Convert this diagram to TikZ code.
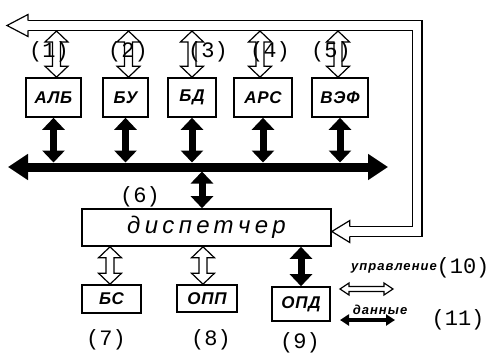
\documentclass[tikz,border=0pt]{standalone}
\usepackage{fontspec}
\setmainfont{Liberation Sans}
\newfontfamily\monof{Liberation Mono}
\newfontfamily\boxf[LetterSpace=4]{Liberation Sans}
\newfontfamily\dispf[LetterSpace=18]{Liberation Sans}
\newfontfamily\legf[LetterSpace=8]{Liberation Sans}
\usetikzlibrary{arrows.meta,calc}

\tikzset{
  blk/.style={draw, line width=1.6pt, inner sep=0pt, font=\boxf\bfseries\itshape\fontsize{17}{17}\selectfont},
  lbl/.style={font=\monof\fontsize{22}{22}\selectfont, inner sep=0pt},
  legtext/.style={font=\legf\bfseries\itshape\fontsize{13}{13}\selectfont, inner sep=0pt},
  hollow/.style={draw=black, fill=white, line width=1.2pt, line join=miter},
  fatarr/.style={line width=7pt, {Triangle[length=12pt,width=22pt]}-{Triangle[length=12pt,width=22pt]}},
  thinfat/.style={line width=3.5pt, {Triangle[length=9pt,width=11pt]}-{Triangle[length=9pt,width=11pt]}},
}

% hollow double-headed arrow: #1 start, #2 end, #3 shaft half width, #4 head half width, #5 head length
\newcommand\hollowarrow[5]{%
  \filldraw[hollow] let \p1=(#1), \p2=(#2),
    \n1={veclen(\x2-\x1,\y2-\y1)}, \n2={(\x2-\x1)/\n1}, \n3={(\y2-\y1)/\n1}, \n4={\n1-(#5)} in
    (\x1,\y1)
    -- ({\x1+(#5)*\n2-(#4)*\n3},{\y1+(#5)*\n3+(#4)*\n2})
    -- ({\x1+(#5)*\n2-(#3)*\n3},{\y1+(#5)*\n3+(#3)*\n2})
    -- ({\x1+\n4*\n2-(#3)*\n3},{\y1+\n4*\n3+(#3)*\n2})
    -- ({\x1+\n4*\n2-(#4)*\n3},{\y1+\n4*\n3+(#4)*\n2})
    -- (\x2,\y2)
    -- ({\x1+\n4*\n2+(#4)*\n3},{\y1+\n4*\n3-(#4)*\n2})
    -- ({\x1+\n4*\n2+(#3)*\n3},{\y1+\n4*\n3-(#3)*\n2})
    -- ({\x1+(#5)*\n2+(#3)*\n3},{\y1+(#5)*\n3-(#3)*\n2})
    -- ({\x1+(#5)*\n2+(#4)*\n3},{\y1+(#5)*\n3-(#4)*\n2})
    -- cycle;}

\begin{document}
\begin{tikzpicture}[x=1pt,y=-1pt]
\useasboundingbox (0,0) rectangle (500,356);

% boxes
\node[blk, minimum width=55pt, minimum height=39pt] (alb) at (53.5,97.5) {АЛБ};
\node[blk, minimum width=45pt, minimum height=39pt] (bu) at (125.5,97.5) {БУ};
\node[blk, minimum width=48pt, minimum height=39pt] (bd) at (192,97.5) {БД};
\node[blk, minimum width=58pt, minimum height=39pt] (ars) at (263,97.5) {АРС};
\node[blk, minimum width=56pt, minimum height=39pt] (vef) at (340,97.5) {ВЭФ};
\node[blk, minimum width=249pt, minimum height=37pt, font=\dispf\itshape\fontsize{24}{24}\selectfont] (disp) at (206.5,227.5) {диспетчер\hspace{56pt}};
\node[blk, minimum width=59pt, minimum height=28pt] (bs) at (111.5,299) {БС};
\node[blk, minimum width=60pt, minimum height=27pt] (opp) at (207,298.5) {ОПП};
\node[blk, minimum width=58pt, minimum height=34pt] (opd) at (301,304) {ОПД};

% data bus
\coordinate (busL) at (8,167);
\coordinate (busR) at (388,167);
\coordinate (busTop) at (0,162.5);
\coordinate (busBot) at (0,171.5);
\draw[line width=9pt, {Triangle[length=20pt,width=25pt]}-{Triangle[length=20pt,width=25pt]}] (busL) -- (busR);

% black arrows boxes <-> bus
\foreach \b in {alb,bu,bd,ars,vef}
  \draw[fatarr] (\b.south) -- (\b.south |- busTop);
\draw[fatarr] ($(disp.north |- busBot)+(-4.5,0)$) -- ($(disp.north)+(-4.5,0)$);
\draw[fatarr] (disp.south -| opd.north) -- (opd.north);

% control bus (hollow)
\coordinate (cL) at (7,25.5);
\coordinate (cTR) at (417,25.5);
\coordinate (cBR) at (417,231.5);
\coordinate (cE) at ($(disp.east)+(0,4)$);
\coordinate (ctlIn) at (0,31);
\draw[line width=1.3pt, double distance=8.4pt, line join=miter] ($(cL)+(21,0)$) -- (cTR) -- (cBR) -- ($(cE)+(18,0)$);
\filldraw[hollow] ($(cL)+(21,-4.9)$) -- ($(cL)+(21,-11)$) -- (cL) -- ($(cL)+(21,11)$) -- ($(cL)+(21,4.9)$);
\filldraw[hollow] ($(cE)+(18,-4.9)$) -- ($(cE)+(18,-11)$) -- (cE) -- ($(cE)+(18,11)$) -- ($(cE)+(18,4.9)$);

% hollow arrows control bus <-> boxes
\hollowarrow{$(alb.north |- ctlIn)+(3,0)$}{$(alb.north)+(3,0)$}{4}{11.5}{11}
\hollowarrow{$(bu.north |- ctlIn)+(3,0)$}{$(bu.north)+(3,0)$}{4}{11.5}{11}
\hollowarrow{bd.north |- ctlIn}{bd.north}{4}{11.5}{11}
\hollowarrow{$(ars.north |- ctlIn)+(-3,0)$}{$(ars.north)+(-3,0)$}{4}{11.5}{11}
\hollowarrow{$(vef.north |- ctlIn)+(-2,0)$}{$(vef.north)+(-2,0)$}{4}{11.5}{11}

% hollow arrows dispatcher <-> lower boxes
\hollowarrow{$(disp.south -| bs.north)+(-1.5,0)$}{$(bs.north)+(-1.5,0)$}{4}{11.5}{11}
\hollowarrow{$(disp.south -| opp.north)+(-4,0)$}{$(opp.north)+(-4,0)$}{4}{11.5}{11}

% legend
\coordinate (lg1a) at (340,289);
\coordinate (lg1b) at (393,289);
\coordinate (lg2a) at (340,320);
\coordinate (lg2b) at (395,320);
\hollowarrow{lg1a}{lg1b}{2.5}{6}{9}
\draw[thinfat] (lg2a) -- (lg2b);
\node[legtext] (tctl) at (394,268) {управление};
\node[legtext] (tdat) at (380,310) {данные};

% number labels
\node[lbl] (n1) at (49,52) {(1)};
\node[lbl] (n2) at (128,52) {(2)};
\node[lbl] (n3) at (208,52) {(3)};
\node[lbl] (n4) at (270,52) {(4)};
\node[lbl] (n5) at (331,52) {(5)};
\node[lbl] (n6) at (140,197) {(6)};
\node[lbl] (n7) at (106,340) {(7)};
\node[lbl] (n8) at (211,340) {(8)};
\node[lbl] (n9) at (300,343) {(9)};
\node[lbl] (n10) at (463,268) {(10)};
\node[lbl] (n11) at (458,320) {(11)};
\end{tikzpicture}
\end{document}
